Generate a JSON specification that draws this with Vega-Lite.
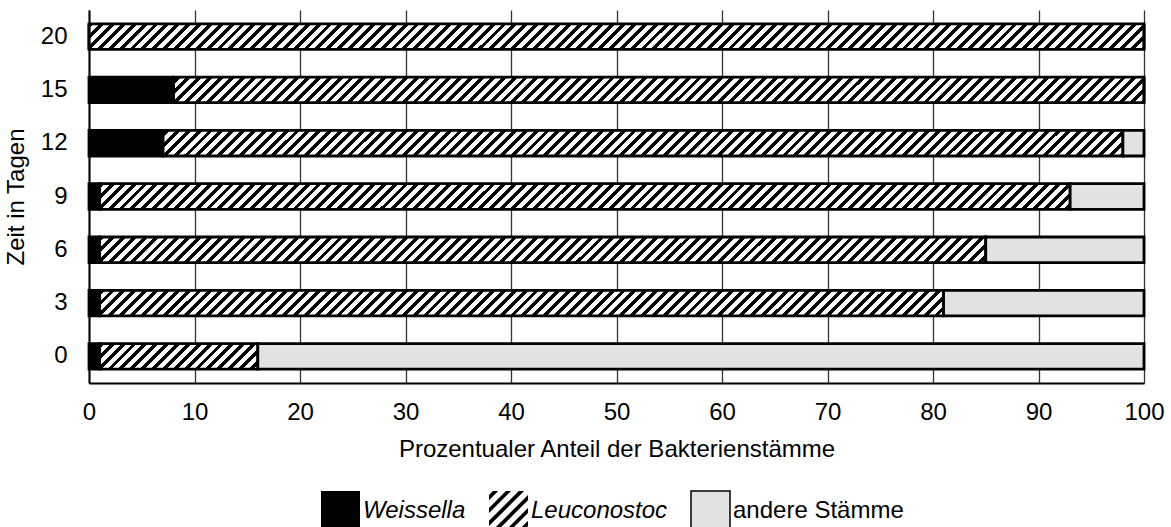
{
  "$schema": "https://vega.github.io/schema/vega-lite/v6.json",
  "width": 1055,
  "height": 373,
  "autosize": {"type": "none"},
  "padding": {"left": 89, "top": 10, "right": 27, "bottom": 144},
  "background": "white",
  "config": {
    "view": {"stroke": null},
    "font": "Liberation Sans",
    "axis": {"labelFont": "Liberation Sans", "titleFont": "Liberation Sans", "labelColor": "#000", "titleColor": "#000", "labelFontSize": 24, "titleFontSize": 24, "titleFontWeight": "normal", "domainColor": "#000", "domainWidth": 2, "ticks": false, "tickSize": 0}
  },
  "data": {"values": [
    {"Tag": 0, "Stamm": "Weissella", "Anteil": 1, "n": 1},
    {"Tag": 0, "Stamm": "Leuconostoc", "Anteil": 15, "n": 2},
    {"Tag": 0, "Stamm": "andere Stämme", "Anteil": 84, "n": 3},
    {"Tag": 3, "Stamm": "Weissella", "Anteil": 1, "n": 1},
    {"Tag": 3, "Stamm": "Leuconostoc", "Anteil": 80, "n": 2},
    {"Tag": 3, "Stamm": "andere Stämme", "Anteil": 19, "n": 3},
    {"Tag": 6, "Stamm": "Weissella", "Anteil": 1, "n": 1},
    {"Tag": 6, "Stamm": "Leuconostoc", "Anteil": 84, "n": 2},
    {"Tag": 6, "Stamm": "andere Stämme", "Anteil": 15, "n": 3},
    {"Tag": 9, "Stamm": "Weissella", "Anteil": 1, "n": 1},
    {"Tag": 9, "Stamm": "Leuconostoc", "Anteil": 92, "n": 2},
    {"Tag": 9, "Stamm": "andere Stämme", "Anteil": 7, "n": 3},
    {"Tag": 12, "Stamm": "Weissella", "Anteil": 7, "n": 1},
    {"Tag": 12, "Stamm": "Leuconostoc", "Anteil": 91, "n": 2},
    {"Tag": 12, "Stamm": "andere Stämme", "Anteil": 2, "n": 3},
    {"Tag": 15, "Stamm": "Weissella", "Anteil": 8, "n": 1},
    {"Tag": 15, "Stamm": "Leuconostoc", "Anteil": 92, "n": 2},
    {"Tag": 15, "Stamm": "andere Stämme", "Anteil": 0, "n": 3},
    {"Tag": 20, "Stamm": "Weissella", "Anteil": 0, "n": 1},
    {"Tag": 20, "Stamm": "Leuconostoc", "Anteil": 100, "n": 2},
    {"Tag": 20, "Stamm": "andere Stämme", "Anteil": 0, "n": 3}
  ]},
  "encoding": {
    "y": {"field": "Tag", "type": "ordinal", "sort": "descending",
      "scale": {"paddingInner": 0.52, "paddingOuter": 0.26},
      "axis": {"title": "Zeit in Tagen", "labelPadding": 22, "titlePadding": 12, "grid": false}}
  },
  "layer": [
    {
      "mark": {"type": "bar", "stroke": null, "color": {"gradient": "linear", "x1": 0, "y1": 0, "x2": 1.03, "y2": 0.025, "stops": [
{"offset":0,"color":"#000"},{"offset":0.0045,"color":"#000"},{"offset":0.0045,"color":"#fff"},{"offset":0.01,"color":"#fff"},
{"offset":0.01,"color":"#000"},{"offset":0.0145,"color":"#000"},{"offset":0.0145,"color":"#fff"},{"offset":0.02,"color":"#fff"},
{"offset":0.02,"color":"#000"},{"offset":0.0245,"color":"#000"},{"offset":0.0245,"color":"#fff"},{"offset":0.03,"color":"#fff"},
{"offset":0.03,"color":"#000"},{"offset":0.0345,"color":"#000"},{"offset":0.0345,"color":"#fff"},{"offset":0.04,"color":"#fff"},
{"offset":0.04,"color":"#000"},{"offset":0.0445,"color":"#000"},{"offset":0.0445,"color":"#fff"},{"offset":0.05,"color":"#fff"},
{"offset":0.05,"color":"#000"},{"offset":0.0545,"color":"#000"},{"offset":0.0545,"color":"#fff"},{"offset":0.06,"color":"#fff"},
{"offset":0.06,"color":"#000"},{"offset":0.0645,"color":"#000"},{"offset":0.0645,"color":"#fff"},{"offset":0.07,"color":"#fff"},
{"offset":0.07,"color":"#000"},{"offset":0.0745,"color":"#000"},{"offset":0.0745,"color":"#fff"},{"offset":0.08,"color":"#fff"},
{"offset":0.08,"color":"#000"},{"offset":0.0845,"color":"#000"},{"offset":0.0845,"color":"#fff"},{"offset":0.09,"color":"#fff"},
{"offset":0.09,"color":"#000"},{"offset":0.0945,"color":"#000"},{"offset":0.0945,"color":"#fff"},{"offset":0.1,"color":"#fff"},
{"offset":0.1,"color":"#000"},{"offset":0.1045,"color":"#000"},{"offset":0.1045,"color":"#fff"},{"offset":0.11,"color":"#fff"},
{"offset":0.11,"color":"#000"},{"offset":0.1145,"color":"#000"},{"offset":0.1145,"color":"#fff"},{"offset":0.12,"color":"#fff"},
{"offset":0.12,"color":"#000"},{"offset":0.1245,"color":"#000"},{"offset":0.1245,"color":"#fff"},{"offset":0.13,"color":"#fff"},
{"offset":0.13,"color":"#000"},{"offset":0.1345,"color":"#000"},{"offset":0.1345,"color":"#fff"},{"offset":0.14,"color":"#fff"},
{"offset":0.14,"color":"#000"},{"offset":0.1445,"color":"#000"},{"offset":0.1445,"color":"#fff"},{"offset":0.15,"color":"#fff"},
{"offset":0.15,"color":"#000"},{"offset":0.1545,"color":"#000"},{"offset":0.1545,"color":"#fff"},{"offset":0.16,"color":"#fff"},
{"offset":0.16,"color":"#000"},{"offset":0.1645,"color":"#000"},{"offset":0.1645,"color":"#fff"},{"offset":0.17,"color":"#fff"},
{"offset":0.17,"color":"#000"},{"offset":0.1745,"color":"#000"},{"offset":0.1745,"color":"#fff"},{"offset":0.18,"color":"#fff"},
{"offset":0.18,"color":"#000"},{"offset":0.1845,"color":"#000"},{"offset":0.1845,"color":"#fff"},{"offset":0.19,"color":"#fff"},
{"offset":0.19,"color":"#000"},{"offset":0.1945,"color":"#000"},{"offset":0.1945,"color":"#fff"},{"offset":0.2,"color":"#fff"},
{"offset":0.2,"color":"#000"},{"offset":0.2045,"color":"#000"},{"offset":0.2045,"color":"#fff"},{"offset":0.21,"color":"#fff"},
{"offset":0.21,"color":"#000"},{"offset":0.2145,"color":"#000"},{"offset":0.2145,"color":"#fff"},{"offset":0.22,"color":"#fff"},
{"offset":0.22,"color":"#000"},{"offset":0.2245,"color":"#000"},{"offset":0.2245,"color":"#fff"},{"offset":0.23,"color":"#fff"},
{"offset":0.23,"color":"#000"},{"offset":0.2345,"color":"#000"},{"offset":0.2345,"color":"#fff"},{"offset":0.24,"color":"#fff"},
{"offset":0.24,"color":"#000"},{"offset":0.2445,"color":"#000"},{"offset":0.2445,"color":"#fff"},{"offset":0.25,"color":"#fff"},
{"offset":0.25,"color":"#000"},{"offset":0.2545,"color":"#000"},{"offset":0.2545,"color":"#fff"},{"offset":0.26,"color":"#fff"},
{"offset":0.26,"color":"#000"},{"offset":0.2645,"color":"#000"},{"offset":0.2645,"color":"#fff"},{"offset":0.27,"color":"#fff"},
{"offset":0.27,"color":"#000"},{"offset":0.2745,"color":"#000"},{"offset":0.2745,"color":"#fff"},{"offset":0.28,"color":"#fff"},
{"offset":0.28,"color":"#000"},{"offset":0.2845,"color":"#000"},{"offset":0.2845,"color":"#fff"},{"offset":0.29,"color":"#fff"},
{"offset":0.29,"color":"#000"},{"offset":0.2945,"color":"#000"},{"offset":0.2945,"color":"#fff"},{"offset":0.3,"color":"#fff"},
{"offset":0.3,"color":"#000"},{"offset":0.3045,"color":"#000"},{"offset":0.3045,"color":"#fff"},{"offset":0.31,"color":"#fff"},
{"offset":0.31,"color":"#000"},{"offset":0.3145,"color":"#000"},{"offset":0.3145,"color":"#fff"},{"offset":0.32,"color":"#fff"},
{"offset":0.32,"color":"#000"},{"offset":0.3245,"color":"#000"},{"offset":0.3245,"color":"#fff"},{"offset":0.33,"color":"#fff"},
{"offset":0.33,"color":"#000"},{"offset":0.3345,"color":"#000"},{"offset":0.3345,"color":"#fff"},{"offset":0.34,"color":"#fff"},
{"offset":0.34,"color":"#000"},{"offset":0.3445,"color":"#000"},{"offset":0.3445,"color":"#fff"},{"offset":0.35,"color":"#fff"},
{"offset":0.35,"color":"#000"},{"offset":0.3545,"color":"#000"},{"offset":0.3545,"color":"#fff"},{"offset":0.36,"color":"#fff"},
{"offset":0.36,"color":"#000"},{"offset":0.3645,"color":"#000"},{"offset":0.3645,"color":"#fff"},{"offset":0.37,"color":"#fff"},
{"offset":0.37,"color":"#000"},{"offset":0.3745,"color":"#000"},{"offset":0.3745,"color":"#fff"},{"offset":0.38,"color":"#fff"},
{"offset":0.38,"color":"#000"},{"offset":0.3845,"color":"#000"},{"offset":0.3845,"color":"#fff"},{"offset":0.39,"color":"#fff"},
{"offset":0.39,"color":"#000"},{"offset":0.3945,"color":"#000"},{"offset":0.3945,"color":"#fff"},{"offset":0.4,"color":"#fff"},
{"offset":0.4,"color":"#000"},{"offset":0.4045,"color":"#000"},{"offset":0.4045,"color":"#fff"},{"offset":0.41,"color":"#fff"},
{"offset":0.41,"color":"#000"},{"offset":0.4145,"color":"#000"},{"offset":0.4145,"color":"#fff"},{"offset":0.42,"color":"#fff"},
{"offset":0.42,"color":"#000"},{"offset":0.4245,"color":"#000"},{"offset":0.4245,"color":"#fff"},{"offset":0.43,"color":"#fff"},
{"offset":0.43,"color":"#000"},{"offset":0.4345,"color":"#000"},{"offset":0.4345,"color":"#fff"},{"offset":0.44,"color":"#fff"},
{"offset":0.44,"color":"#000"},{"offset":0.4445,"color":"#000"},{"offset":0.4445,"color":"#fff"},{"offset":0.45,"color":"#fff"},
{"offset":0.45,"color":"#000"},{"offset":0.4545,"color":"#000"},{"offset":0.4545,"color":"#fff"},{"offset":0.46,"color":"#fff"},
{"offset":0.46,"color":"#000"},{"offset":0.4645,"color":"#000"},{"offset":0.4645,"color":"#fff"},{"offset":0.47,"color":"#fff"},
{"offset":0.47,"color":"#000"},{"offset":0.4745,"color":"#000"},{"offset":0.4745,"color":"#fff"},{"offset":0.48,"color":"#fff"},
{"offset":0.48,"color":"#000"},{"offset":0.4845,"color":"#000"},{"offset":0.4845,"color":"#fff"},{"offset":0.49,"color":"#fff"},
{"offset":0.49,"color":"#000"},{"offset":0.4945,"color":"#000"},{"offset":0.4945,"color":"#fff"},{"offset":0.5,"color":"#fff"},
{"offset":0.5,"color":"#000"},{"offset":0.5045,"color":"#000"},{"offset":0.5045,"color":"#fff"},{"offset":0.51,"color":"#fff"},
{"offset":0.51,"color":"#000"},{"offset":0.5145,"color":"#000"},{"offset":0.5145,"color":"#fff"},{"offset":0.52,"color":"#fff"},
{"offset":0.52,"color":"#000"},{"offset":0.5245,"color":"#000"},{"offset":0.5245,"color":"#fff"},{"offset":0.53,"color":"#fff"},
{"offset":0.53,"color":"#000"},{"offset":0.5345,"color":"#000"},{"offset":0.5345,"color":"#fff"},{"offset":0.54,"color":"#fff"},
{"offset":0.54,"color":"#000"},{"offset":0.5445,"color":"#000"},{"offset":0.5445,"color":"#fff"},{"offset":0.55,"color":"#fff"},
{"offset":0.55,"color":"#000"},{"offset":0.5545,"color":"#000"},{"offset":0.5545,"color":"#fff"},{"offset":0.56,"color":"#fff"},
{"offset":0.56,"color":"#000"},{"offset":0.5645,"color":"#000"},{"offset":0.5645,"color":"#fff"},{"offset":0.57,"color":"#fff"},
{"offset":0.57,"color":"#000"},{"offset":0.5745,"color":"#000"},{"offset":0.5745,"color":"#fff"},{"offset":0.58,"color":"#fff"},
{"offset":0.58,"color":"#000"},{"offset":0.5845,"color":"#000"},{"offset":0.5845,"color":"#fff"},{"offset":0.59,"color":"#fff"},
{"offset":0.59,"color":"#000"},{"offset":0.5945,"color":"#000"},{"offset":0.5945,"color":"#fff"},{"offset":0.6,"color":"#fff"},
{"offset":0.6,"color":"#000"},{"offset":0.6045,"color":"#000"},{"offset":0.6045,"color":"#fff"},{"offset":0.61,"color":"#fff"},
{"offset":0.61,"color":"#000"},{"offset":0.6145,"color":"#000"},{"offset":0.6145,"color":"#fff"},{"offset":0.62,"color":"#fff"},
{"offset":0.62,"color":"#000"},{"offset":0.6245,"color":"#000"},{"offset":0.6245,"color":"#fff"},{"offset":0.63,"color":"#fff"},
{"offset":0.63,"color":"#000"},{"offset":0.6345,"color":"#000"},{"offset":0.6345,"color":"#fff"},{"offset":0.64,"color":"#fff"},
{"offset":0.64,"color":"#000"},{"offset":0.6445,"color":"#000"},{"offset":0.6445,"color":"#fff"},{"offset":0.65,"color":"#fff"},
{"offset":0.65,"color":"#000"},{"offset":0.6545,"color":"#000"},{"offset":0.6545,"color":"#fff"},{"offset":0.66,"color":"#fff"},
{"offset":0.66,"color":"#000"},{"offset":0.6645,"color":"#000"},{"offset":0.6645,"color":"#fff"},{"offset":0.67,"color":"#fff"},
{"offset":0.67,"color":"#000"},{"offset":0.6745,"color":"#000"},{"offset":0.6745,"color":"#fff"},{"offset":0.68,"color":"#fff"},
{"offset":0.68,"color":"#000"},{"offset":0.6845,"color":"#000"},{"offset":0.6845,"color":"#fff"},{"offset":0.69,"color":"#fff"},
{"offset":0.69,"color":"#000"},{"offset":0.6945,"color":"#000"},{"offset":0.6945,"color":"#fff"},{"offset":0.7,"color":"#fff"},
{"offset":0.7,"color":"#000"},{"offset":0.7045,"color":"#000"},{"offset":0.7045,"color":"#fff"},{"offset":0.71,"color":"#fff"},
{"offset":0.71,"color":"#000"},{"offset":0.7145,"color":"#000"},{"offset":0.7145,"color":"#fff"},{"offset":0.72,"color":"#fff"},
{"offset":0.72,"color":"#000"},{"offset":0.7245,"color":"#000"},{"offset":0.7245,"color":"#fff"},{"offset":0.73,"color":"#fff"},
{"offset":0.73,"color":"#000"},{"offset":0.7345,"color":"#000"},{"offset":0.7345,"color":"#fff"},{"offset":0.74,"color":"#fff"},
{"offset":0.74,"color":"#000"},{"offset":0.7445,"color":"#000"},{"offset":0.7445,"color":"#fff"},{"offset":0.75,"color":"#fff"},
{"offset":0.75,"color":"#000"},{"offset":0.7545,"color":"#000"},{"offset":0.7545,"color":"#fff"},{"offset":0.76,"color":"#fff"},
{"offset":0.76,"color":"#000"},{"offset":0.7645,"color":"#000"},{"offset":0.7645,"color":"#fff"},{"offset":0.77,"color":"#fff"},
{"offset":0.77,"color":"#000"},{"offset":0.7745,"color":"#000"},{"offset":0.7745,"color":"#fff"},{"offset":0.78,"color":"#fff"},
{"offset":0.78,"color":"#000"},{"offset":0.7845,"color":"#000"},{"offset":0.7845,"color":"#fff"},{"offset":0.79,"color":"#fff"},
{"offset":0.79,"color":"#000"},{"offset":0.7945,"color":"#000"},{"offset":0.7945,"color":"#fff"},{"offset":0.8,"color":"#fff"},
{"offset":0.8,"color":"#000"},{"offset":0.8045,"color":"#000"},{"offset":0.8045,"color":"#fff"},{"offset":0.81,"color":"#fff"},
{"offset":0.81,"color":"#000"},{"offset":0.8145,"color":"#000"},{"offset":0.8145,"color":"#fff"},{"offset":0.82,"color":"#fff"},
{"offset":0.82,"color":"#000"},{"offset":0.8245,"color":"#000"},{"offset":0.8245,"color":"#fff"},{"offset":0.83,"color":"#fff"},
{"offset":0.83,"color":"#000"},{"offset":0.8345,"color":"#000"},{"offset":0.8345,"color":"#fff"},{"offset":0.84,"color":"#fff"},
{"offset":0.84,"color":"#000"},{"offset":0.8445,"color":"#000"},{"offset":0.8445,"color":"#fff"},{"offset":0.85,"color":"#fff"},
{"offset":0.85,"color":"#000"},{"offset":0.8545,"color":"#000"},{"offset":0.8545,"color":"#fff"},{"offset":0.86,"color":"#fff"},
{"offset":0.86,"color":"#000"},{"offset":0.8645,"color":"#000"},{"offset":0.8645,"color":"#fff"},{"offset":0.87,"color":"#fff"},
{"offset":0.87,"color":"#000"},{"offset":0.8745,"color":"#000"},{"offset":0.8745,"color":"#fff"},{"offset":0.88,"color":"#fff"},
{"offset":0.88,"color":"#000"},{"offset":0.8845,"color":"#000"},{"offset":0.8845,"color":"#fff"},{"offset":0.89,"color":"#fff"},
{"offset":0.89,"color":"#000"},{"offset":0.8945,"color":"#000"},{"offset":0.8945,"color":"#fff"},{"offset":0.9,"color":"#fff"},
{"offset":0.9,"color":"#000"},{"offset":0.9045,"color":"#000"},{"offset":0.9045,"color":"#fff"},{"offset":0.91,"color":"#fff"},
{"offset":0.91,"color":"#000"},{"offset":0.9145,"color":"#000"},{"offset":0.9145,"color":"#fff"},{"offset":0.92,"color":"#fff"},
{"offset":0.92,"color":"#000"},{"offset":0.9245,"color":"#000"},{"offset":0.9245,"color":"#fff"},{"offset":0.93,"color":"#fff"},
{"offset":0.93,"color":"#000"},{"offset":0.9345,"color":"#000"},{"offset":0.9345,"color":"#fff"},{"offset":0.94,"color":"#fff"},
{"offset":0.94,"color":"#000"},{"offset":0.9445,"color":"#000"},{"offset":0.9445,"color":"#fff"},{"offset":0.95,"color":"#fff"},
{"offset":0.95,"color":"#000"},{"offset":0.9545,"color":"#000"},{"offset":0.9545,"color":"#fff"},{"offset":0.96,"color":"#fff"},
{"offset":0.96,"color":"#000"},{"offset":0.9645,"color":"#000"},{"offset":0.9645,"color":"#fff"},{"offset":0.97,"color":"#fff"},
{"offset":0.97,"color":"#000"},{"offset":0.9745,"color":"#000"},{"offset":0.9745,"color":"#fff"},{"offset":0.98,"color":"#fff"},
{"offset":0.98,"color":"#000"},{"offset":0.9845,"color":"#000"},{"offset":0.9845,"color":"#fff"},{"offset":0.99,"color":"#fff"},
{"offset":0.99,"color":"#000"},{"offset":0.9945,"color":"#000"},{"offset":0.9945,"color":"#fff"},{"offset":1,"color":"#fff"}
      ]}},
      "encoding": {
        "x": {"aggregate": "sum", "field": "Anteil", "type": "quantitative", "stack": null,
          "scale": {"domain": [0, 100], "nice": false, "zero": true},
          "axis": {"title": "Prozentualer Anteil der Bakterienstämme", "values": [0, 10, 20, 30, 40, 50, 60, 70, 80, 90, 100], "grid": true, "gridColor": "#333", "gridWidth": 1.3, "labelFlush": false, "labelPadding": 17, "titlePadding": 13}}
      }
    },
    {
      "mark": {"type": "bar", "stroke": "#000", "strokeWidth": 2.8, "strokeJoin": "miter"},
      "encoding": {
        "x": {"field": "Anteil", "type": "quantitative", "stack": "zero"},
        "order": {"field": "n", "type": "quantitative"},
        "fillOpacity": {"condition": {"test": "datum.Stamm === 'Leuconostoc'", "value": 0}, "value": 1},
        "color": {"field": "Stamm", "type": "nominal",
          "scale": {"domain": ["Weissella", "Leuconostoc", "andere Stämme"], "range": ["#000000", "#000000", "#e2e2e2"]},
          "legend": {"orient": "none", "legendX": 231, "legendY": 480, "direction": "horizontal", "title": null, "symbolSize": 1521, "labelFont": "Liberation Sans", "labelFontSize": 24, "labelColor": "#000", "labelOffset": 2, "labelLimit": 400, "columnPadding": 20, "padding": 0,
            "symbolOpacity": 1,
            "symbolType": {"expr": "datum.value === 'Leuconostoc' ? 'M-1,-0.8L-0.8,-1L-0.53,-1L-1,-0.53Z M-1,-0.13L-0.13,-1L0.13,-1L-1,0.13Z M-1,0.53L0.53,-1L0.8,-1L-1,0.8Z M-0.8,1L1,-0.8L1,-0.53L-0.53,1Z M-0.13,1L1,-0.13L1,0.13L0.13,1Z M0.53,1L1,0.53L1,0.8L0.8,1Z' : 'square'"},
            "symbolStrokeWidth": 1.5,
            "symbolStrokeColor": {"expr": "datum.value === 'andere Stämme' ? '#000' : 'transparent'"},
            "labelFontStyle": {"expr": "datum.value === 'andere Stämme' ? 'normal' : 'italic'"}
          }
        }
      }
    }
  ]
}
